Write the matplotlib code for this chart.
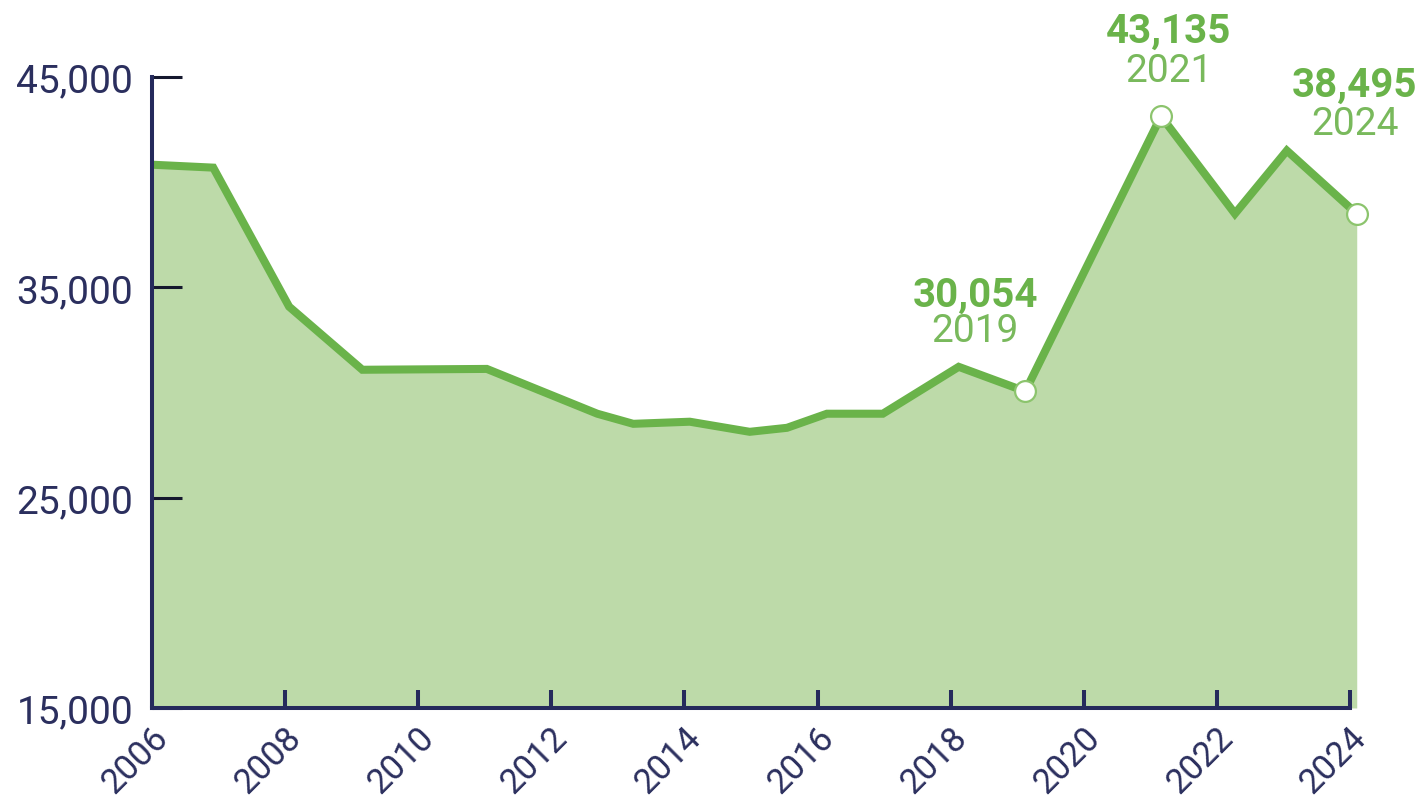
import matplotlib
matplotlib.use('Agg')
import matplotlib.pyplot as plt
from matplotlib.transforms import ScaledTranslation

# positions along the time axis and values
year_pos = [2006.00, 2006.92, 2008.06, 2009.16, 2011.03, 2012.69, 2013.23,
            2014.08, 2014.98, 2015.54, 2016.14, 2016.98, 2018.12, 2019.12,
            2020.14, 2021.16, 2022.27, 2023.05, 2024.10]
values = [40830, 40690, 34080, 31080, 31120, 28990, 28510,
          28610, 28130, 28320, 28990, 28990, 31220, 30054,
          36600, 43135, 38500, 41500, 38495]

# highlighted points: index into the series, year label, label offset (px)
hl_idx = [13, 15, 18]
hl_year = ['2019', '2021', '2024']
hl_dx = [-50, 8, -2]
hl_dy_val = [86, 74, 118]
hl_dy_year = [50, 35, 80]

y_ticks = [15000, 25000, 35000, 45000]
x_ticks = list(range(2006, 2025, 2))

navy = '#252a5c'
green = '#6ab34a'
green_light = '#79b95c'
fill_col = '#bddaa9'

plt.rcParams['font.family'] = ['Roboto', 'DejaVu Sans']

fig = plt.figure(figsize=(14.22, 8.04), dpi=100)
ax = fig.add_axes([0.1069, 0.1182, 0.8472, 0.7848])

ax.fill_between(year_pos, values, 15000, color=fill_col, lw=0, zorder=1)
ax.plot(year_pos, values, color=green, lw=5.8, solid_joinstyle='miter', zorder=3)

hx = [year_pos[i] for i in hl_idx]
hy = [values[i] for i in hl_idx]
ax.plot(hx, hy, 'o', ms=15, mfc='white', mec='#8cc46d', mew=1.6, zorder=4, clip_on=False)

for i, yr, dx, dv, dyy in zip(hl_idx, hl_year, hl_dx, hl_dy_val, hl_dy_year):
    ax.annotate(f'{values[i]:,}', (year_pos[i], values[i]), xytext=(dx, dv),
                textcoords='offset pixels', ha='center', va='baseline',
                fontsize=29, fontweight='bold', color=green, annotation_clip=False)
    ax.annotate(yr, (year_pos[i], values[i]), xytext=(dx, dyy),
                textcoords='offset pixels', ha='center', va='baseline',
                fontsize=28, fontweight='normal', color=green_light, annotation_clip=False)

ax.set_xlim(2006, 2024.1)
ax.set_ylim(15000, 45000)
ax.set_yticks(y_ticks)
ax.set_yticklabels([f'{v:,}' for v in y_ticks])
ax.set_xticks(x_ticks)
ax.set_xticklabels([str(x) for x in x_ticks])

for s in ['top', 'right']:
    ax.spines[s].set_visible(False)
for s in ['left', 'bottom']:
    ax.spines[s].set_color(navy)
    ax.spines[s].set_linewidth(2.9)
    ax.spines[s].set_zorder(5)
ax.spines['bottom'].set_bounds(2006, 2024)
ax.spines['bottom'].set_capstyle('projecting')

ax.tick_params(axis='y', direction='in', length=21.5, width=2.2, color='#15182e',
               pad=13.5, labelsize=28, labelcolor='#2b2f5e')
ax.tick_params(axis='x', direction='in', length=13, width=2.9, color=navy,
               pad=17, labelsize=25, labelcolor='#2b2f5e')
for lab in ax.get_xticklabels():
    lab.set_rotation(45)
    lab.set_ha('right')
    lab.set_va('center')
    lab.set_rotation_mode('anchor')
    lab.set_transform(lab.get_transform() + ScaledTranslation(11 / 100, 0, fig.dpi_scale_trans))

ax.set_facecolor('none')
fig.savefig('out.png', dpi=100)
